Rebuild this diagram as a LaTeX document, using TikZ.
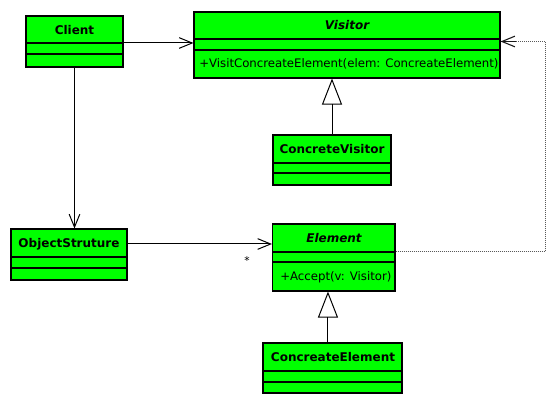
\documentclass[tikz,border=0pt]{standalone}
\usepackage{fontspec}
\setmainfont{DejaVu Sans}
\usetikzlibrary{positioning,fit,arrows.meta}
\definecolor{umlgreen}{RGB}{0,255,0}

\begin{document}
\begin{tikzpicture}[x=0.75pt,y=-0.75pt,
    classbox/.style={draw=black, fill=umlgreen, line width=0.8pt, inner sep=0pt},
    classname/.style={font=\fontsize{9}{11}\selectfont\bfseries},
    abstractname/.style={font=\fontsize{9}{11}\selectfont\bfseries\itshape},
    operation/.style={font=\fontsize{8.8}{11}\selectfont, anchor=west, inner sep=0pt},
    sepline/.style={line width=0.8pt},
    assoc/.style={line width=0.75pt, -{Straight Barb[length=9.75pt, width=8pt]}},
    inherit/.style={line width=0.75pt, -{Triangle[open, length=19.5pt, width=15pt]}},
    depend/.style={line width=0.75pt, black!65, dash pattern=on 0.75pt off 0.75pt},
    dependtip/.style={line width=0.8pt, black!90, -{Straight Barb[length=9.75pt, width=8pt]}}]

  \useasboundingbox (0,0) rectangle (557,402);

  % Client class
  \node[classbox, fit={(26,16) (123,67)}] (client) {};
  \node[classname] (clientname) at (74.5,30) {Client};
  \coordinate (clientsepa) at (26,43);
  \coordinate (clientsepb) at (26,54);
  \draw[sepline] (clientsepa) -- (clientsepa -| client.east);
  \draw[sepline] (clientsepb) -- (clientsepb -| client.east);

  % Visitor class (abstract)
  \node[classbox, fit={(194,12) (500,78)}] (visitor) {};
  \node[abstractname] (visitorname) at (347,25.5) {Visitor};
  \coordinate (visitorsepa) at (194,39);
  \coordinate (visitorsepb) at (194,50);
  \draw[sepline] (visitorsepa) -- (visitorsepa -| visitor.east);
  \draw[sepline] (visitorsepb) -- (visitorsepb -| visitor.east);
  \node[operation] (visitorop) at (199,64) {+VisitConcreateElement(elem: ConcreateElement)};

  % ConcreteVisitor class
  \node[classbox, fit={(273,135) (391,185)}] (cvisitor) {};
  \node[classname] (cvisitorname) at (332,149) {ConcreteVisitor};
  \coordinate (cvisitorsepa) at (273,163);
  \coordinate (cvisitorsepb) at (273,173);
  \draw[sepline] (cvisitorsepa) -- (cvisitorsepa -| cvisitor.east);
  \draw[sepline] (cvisitorsepb) -- (cvisitorsepb -| cvisitor.east);

  % ObjectStruture class
  \node[classbox, fit={(11,229) (127,280)}] (objstruct) {};
  \node[classname] (objstructname) at (69,244) {ObjectStruture};
  \coordinate (objstructsepa) at (11,257);
  \coordinate (objstructsepb) at (11,268);
  \draw[sepline] (objstructsepa) -- (objstructsepa -| objstruct.east);
  \draw[sepline] (objstructsepb) -- (objstructsepb -| objstruct.east);

  % Element class (abstract)
  \node[classbox, fit={(272.5,224) (395,291)}] (element) {};
  \node[abstractname] (elementname) at (334,238.5) {Element};
  \coordinate (elementsepa) at (272.5,252);
  \coordinate (elementsepb) at (272.5,262);
  \draw[sepline] (elementsepa) -- (elementsepa -| element.east);
  \draw[sepline] (elementsepb) -- (elementsepb -| element.east);
  \node[operation] (elementop) at (280,277) {+Accept(v: Visitor)};

  % ConcreateElement class
  \node[classbox, fit={(263,343) (402,393)}] (celement) {};
  \node[classname] (celementname) at (333,357) {ConcreateElement};
  \coordinate (celementsepa) at (263,371);
  \coordinate (celementsepb) at (263,382);
  \draw[sepline] (celementsepa) -- (celementsepa -| celement.east);
  \draw[sepline] (celementsepb) -- (celementsepb -| celement.east);

  % Associations
  \draw[assoc] (clientsepa -| client.east) -- (clientsepa -| visitor.west);
  \draw[assoc] (client.south) -- (client.south |- objstruct.north);
  \draw[assoc] (objstructname -| objstruct.east) -- (objstructname -| element.west);
  \node[font=\fontsize{8}{10}\selectfont, inner sep=0pt] (multstar) at (247,261) {*};

  % Generalizations
  \draw[inherit] (cvisitor.north) -- (cvisitor.north |- visitor.south);
  \draw[inherit] ([xshift=-3.4pt]celement.north) -- ([xshift=-3.4pt]celement.north |- element.south);

  % Dependency (dotted line, solid tip)
  \coordinate (depcorner) at (545,41.5);
  \coordinate (deptip) at (516,41.5);
  \draw[depend] (elementsepa -| element.east) -- (elementsepa -| depcorner) -- (depcorner) -- (deptip);
  \draw[dependtip] (deptip) -- (deptip -| visitor.east);
\end{tikzpicture}
\end{document}
